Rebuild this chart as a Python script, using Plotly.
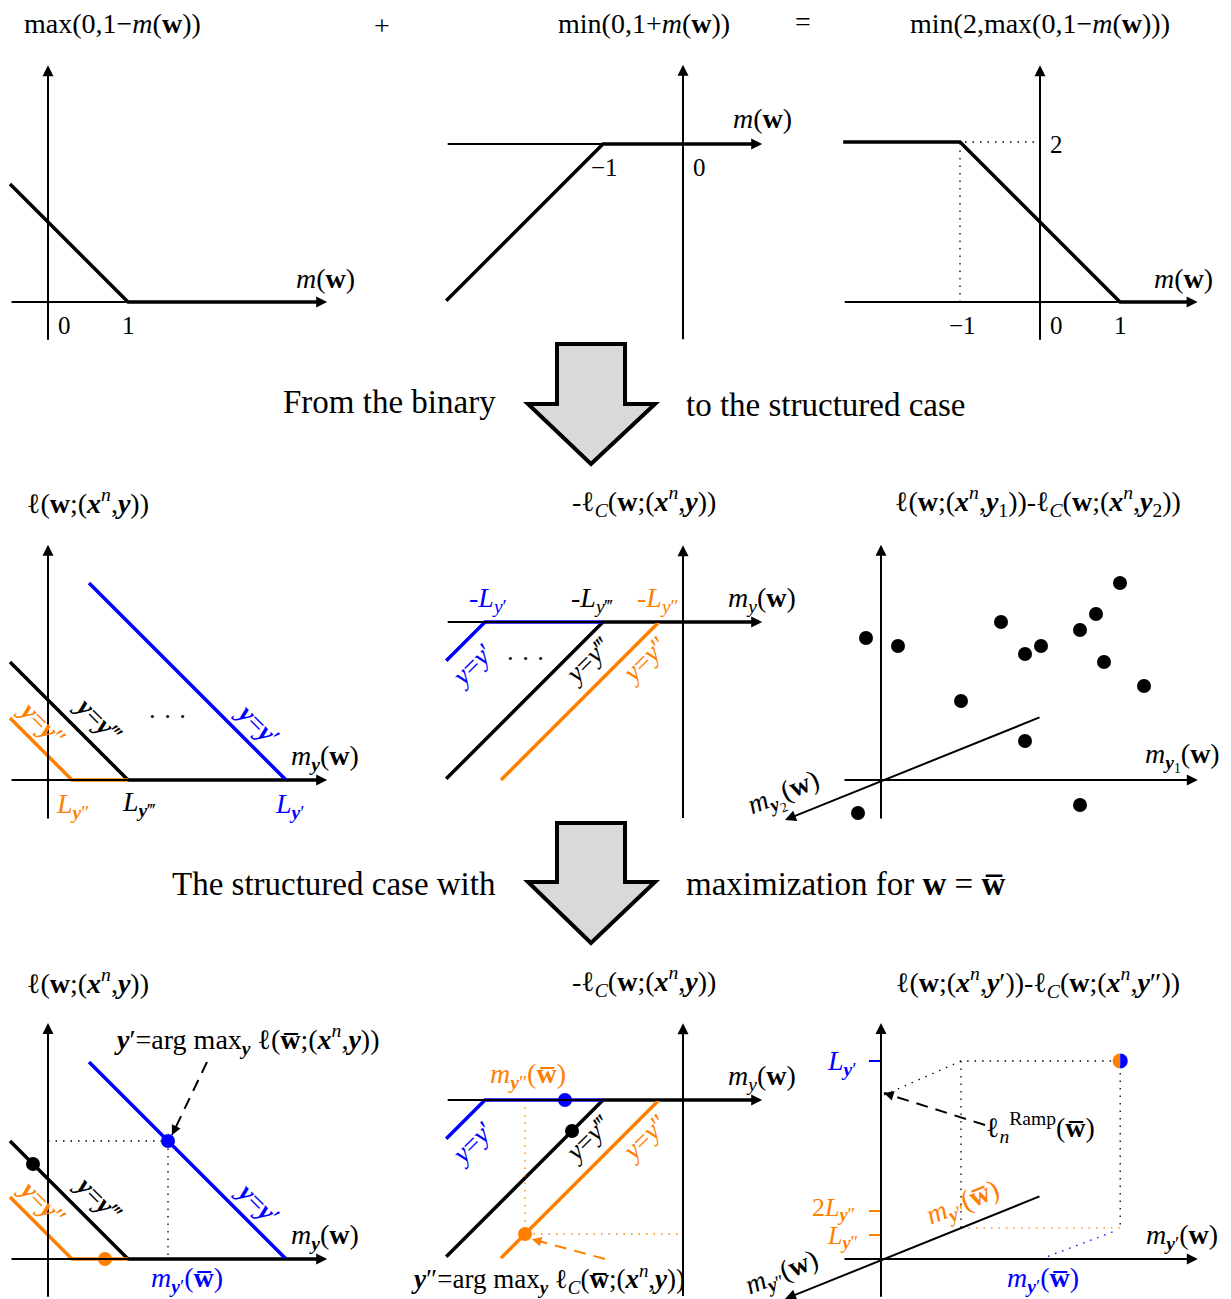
import plotly.graph_objects as go

W, H = 1231, 1299
S = 80.0  # pixels per unit in every panel

FONT = "Liberation Serif"
BLUE = "#0000ff"
ORANGE = "#ff8000"
BLACK = "#000000"
WB = "<b>w\u0305</b>"  # w-bar
MS = 28   # math text size
RS = 27   # rotated label size

# ---------------- data (panel units) ----------------
# Row 1: binary case
hinge_m = [-0.475, 1.0, 3.4]
hinge_v = [1.475, 0.0, 0.0]
concave_m = [-2.96, -1.0, 0.95]
concave_v = [-1.96, 0.0, 0.0]
ramp_m = [-2.46, -1.0, 1.0, 1.9]
ramp_v = [2.0, 2.0, 0.0, 0.0]
ramp_guide_m = [-1.0, -1.0, 0.0]
ramp_guide_v = [0.0, 2.0, 2.0]

# Rows 2/3: structured hinge  l(w;(x,y))
sh_black_m = [-0.475, 1.0, 3.4]
sh_black_v = [1.475, 0.0, 0.0]
sh_orange_m = [-0.475, 0.3, 1.0]
sh_orange_v = [0.775, 0.0, 0.0]
sh_blue_m = [0.5125, 2.975]
sh_blue_v = [2.4625, 0.0]

# structured concave part  -l_C(w;(x,y))
sc_blue_m = [-2.96, -2.475, -1.0]
sc_blue_v = [-0.485, 0.0, 0.0]
sc_black_m = [-2.96, -1.0, 0.95]
sc_black_v = [-1.96, 0.0, 0.0]
sc_orange_m = [-2.275, -0.3]
sc_orange_v = [-1.975, 0.0]

# scatter: difference of the two parts
pts_m1 = [-0.1875, 0.2125, 1.5, 1.8, 2.0, 2.4875, 2.6875, 2.9875, 2.7875, 3.2875, 1.0, 1.8, 2.4875, -0.2875]
pts_v = [1.775, 1.675, 1.975, 1.575, 1.675, 1.875, 2.075, 2.4625, 1.475, 1.175, 0.9875, 0.4875, -0.3125, -0.4125]
obl_m = [2.0, -1.2]     # oblique m_y2 axis (drawn projection)
obl_v = [0.79, -0.5]

# Row 3 extras
dots_l_m = [-0.1875, 0.7125, 1.5]
dots_l_v = [1.1875, 0.0, 1.475]
dots_l_c = [BLACK, ORANGE, BLUE]
guide_l_m = [0.0, 1.5, 1.5]
guide_l_v = [1.475, 1.475, 0.0]
argmax_l_tail = (1.9875, 2.4625)
argmax_l_head = (1.55, 1.55)

dots_c_m = [-1.475, -1.3875, -1.975]
dots_c_v = [0.0, -0.3875, -1.675]
dots_c_c = [BLUE, BLACK, ORANGE]
guide_c_m = [-1.975, -1.975, 0.0]
guide_c_v = [0.0, -1.675, -1.675]
argmax_c_tail = (-0.975, -1.9875)
argmax_c_head = (-1.89, -1.74)

L_y1 = 2.475   # L_y'
L_y2 = 0.3     # L_y''
tick_vals = [L_y1, 2 * L_y2, L_y2]
tick_cols = [BLUE, ORANGE, ORANGE]
my1_bar = 2.0
my2_bar_pt = (1.0, 0.395)
corner = (2.99, 0.39)
top_v = L_y1
ramp_val = 2.075
ramp_tail = (1.3, 1.675)

# ---------------- panels: (ox, oy, left, right, top, bottom) in px ----------------
PANELS = {
    1: (48, 302, 0, 410, 45, 345),
    2: (683, 144, 415, 815, 45, 345),
    3: (1040, 302, 815, 1231, 45, 345),
    4: (48, 780, 0, 410, 525, 825),
    5: (683, 622, 415, 815, 525, 825),
    6: (881, 780, 760, 1231, 525, 825),
    7: (48, 1259, 0, 410, 1005, 1299),
    8: (683, 1100, 415, 815, 1005, 1299),
    9: (881, 1259, 760, 1231, 1005, 1299),
}
# axis extents per panel (tail, head) in panel units
AX_X = {1: (-0.475, 3.49), 2: (-2.96, 0.99), 3: (-2.46, 1.97), 4: (-0.475, 3.49), 5: (-2.96, 0.99),
        6: (-0.475, 3.96), 7: (-0.475, 3.49), 8: (-2.96, 0.99), 9: (-0.475, 3.96)}
AX_Y = {1: (-0.49, 2.96), 2: (-2.46, 0.99), 3: (-0.49, 2.96), 4: (-0.5, 2.94), 5: (-2.47, 0.96),
        6: (-0.5, 2.94), 7: (-0.49, 2.95), 8: (-2.47, 0.96), 9: (-0.49, 2.95)}

fig = go.Figure()
layout = dict(width=W, height=H, margin=dict(l=0, r=0, t=0, b=0), showlegend=False,
              paper_bgcolor="white", plot_bgcolor="white")
annotations = []
shapes = []


def refs(i):
    return ("x" if i == 1 else f"x{i}"), ("y" if i == 1 else f"y{i}")


for i, (ox, oy, l, r, t, b) in PANELS.items():
    sx = "" if i == 1 else str(i)
    xr, yr = refs(i)
    layout[f"xaxis{sx}"] = dict(domain=[l / W, r / W], range=[(l - ox) / S, (r - ox) / S],
                                visible=False, fixedrange=True, anchor=yr)
    layout[f"yaxis{sx}"] = dict(domain=[1 - b / H, 1 - t / H], range=[(oy - b) / S, (oy - t) / S],
                                visible=False, fixedrange=True, anchor=xr)


def line(i, xs, ys, color=BLACK, width=3.5, dash=None):
    xr, yr = refs(i)
    fig.add_trace(go.Scatter(x=xs, y=ys, xaxis=xr, yaxis=yr, mode="lines", hoverinfo="skip",
                             line=dict(color=color, width=width, dash=dash)))


def dots(i, xs, ys, colors, size=14):
    xr, yr = refs(i)
    fig.add_trace(go.Scatter(x=xs, y=ys, xaxis=xr, yaxis=yr, mode="markers", hoverinfo="skip",
                             cliponaxis=False, marker=dict(color=colors, size=size)))


def arrow(i, tail, head, color=BLACK, width=2, size=1.1):
    xr, yr = refs(i)
    annotations.append(dict(x=head[0], y=head[1], ax=tail[0], ay=tail[1], xref=xr, yref=yr,
                            axref=xr, ayref=yr, showarrow=True, arrowhead=2, arrowsize=size,
                            arrowwidth=width, arrowcolor=color, text=""))


def dashed_arrow(i, tail, head, color=BLACK):
    line(i, [tail[0], head[0]], [tail[1], head[1]], color=color, width=2, dash="12px,8px")
    near = (head[0] + 0.08 * (tail[0] - head[0]), head[1] + 0.08 * (tail[1] - head[1]))
    arrow(i, near, head, color=color, width=1.6, size=1.2)


def T(px, py, text, size=MS, color=BLACK, angle=0, xanchor="center"):
    annotations.append(dict(x=px / W, y=1 - py / H, xref="paper", yref="paper", text=text,
                            showarrow=False, textangle=angle, xanchor=xanchor, yanchor="middle",
                            font=dict(family=FONT, size=size, color=color)))


# coordinate axes
for i in PANELS:
    arrow(i, (AX_X[i][0], 0), (AX_X[i][1], 0))
    arrow(i, (0, AX_Y[i][0]), (0, AX_Y[i][1]))
for i in (6, 9):
    arrow(i, (obl_m[0], obl_v[0]), (obl_m[1], obl_v[1]))

# ---------------- row 1 ----------------
line(1, hinge_m, hinge_v)
line(2, concave_m, concave_v)
line(3, ramp_guide_m, ramp_guide_v, width=1.3, dash="1.5px,6px")
line(3, ramp_m, ramp_v)

mw = "<i>m</i>(<b>w</b>)"
T(112, 23, "max(0,1\u2212<i>m</i>(<b>w</b>))")
T(382, 25, "+")
T(644, 23, "min(0,1+<i>m</i>(<b>w</b>))")
T(803, 22, "=")
T(1040, 23, "min(2,max(0,1\u2212<i>m</i>(<b>w</b>)))")
T(325, 278, mw)
T(762, 119, mw)
T(1183, 278, mw)
for px, py, s in [(64, 326, "0"), (128, 326, "1"), (604, 168, "\u22121"), (699, 168, "0"),
                  (1056, 144, "2"), (962, 326, "\u22121"), (1056, 326, "0"), (1120, 326, "1")]:
    T(px, py, s, size=25)

# ---------------- rows 2 and 3: structured panels ----------------
for i in (4, 7):
    line(i, sh_black_m, sh_black_v)
    line(i, sh_orange_m, sh_orange_v, color=ORANGE)
    line(i, sh_blue_m, sh_blue_v, color=BLUE)
for i in (5, 8):
    line(i, sc_black_m, sc_black_v)
    line(i, sc_blue_m, sc_blue_v, color=BLUE)
    line(i, sc_orange_m, sc_orange_v, color=ORANGE)

xb = "<b><i>x</i></b><sup><i>n</i></sup>"
yb = "<b><i>y</i></b>"
title_l = f"\u2113(<b>w</b>;({xb},{yb}))"
title_c = f"-\u2113<sub><i>C</i></sub>(<b>w</b>;({xb},{yb}))"
my_b = f"<i>m</i><sub>{yb}</sub>(<b>w</b>)"
my_i = "<i>m</i><sub><i>y</i></sub>(<b>w</b>)"

for dy in (0, 479):
    T(88, 502 + dy, title_l)
    T(644, 502 + dy, title_c)
    T(98, 719 + dy, f"{yb}={yb}\u2034", size=RS, angle=45)
    T(42, 723 + dy, f"{yb}={yb}\u2033", size=RS, color=ORANGE, angle=45)
    T(258, 724 + dy, f"{yb}={yb}\u2032", size=RS, color=BLUE, angle=45)
    T(325, 757 + dy, my_b)
T(167, 716, "\u00b7 \u00b7 \u00b7", size=26)
T(72, 805, f"<i>L</i><sub>{yb}\u2033</sub>", color=ORANGE)
T(138, 803, f"<i>L</i><sub>{yb}\u2034</sub>")
T(290, 805, f"<i>L</i><sub>{yb}\u2032</sub>", color=BLUE)

# panel 5 labels
T(488, 600, "-<i>L</i><sub><i>y</i>\u2032</sub>", color=BLUE)
T(592, 600, "-<i>L</i><sub><i>y</i>\u2034</sub>")
T(658, 600, "-<i>L</i><sub><i>y</i>\u2033</sub>", color=ORANGE)
T(762, 600, my_i)
T(525, 658, "\u00b7 \u00b7 \u00b7", size=26)
for dy in (0, 478):
    T(472, 665 + dy, "<i>y</i>=<i>y</i>\u2032", size=RS, color=BLUE, angle=-45)
    T(587, 661 + dy, "<i>y</i>=<i>y</i>\u2034", size=RS, angle=-45)
    T(644, 660 + dy, "<i>y</i>=<i>y</i>\u2033", size=RS, color=ORANGE, angle=-45)
T(762, 1077, my_i)

# panel 6
dots(6, pts_m1, pts_v, BLACK)
T(1038, 502, f"\u2113(<b>w</b>;({xb},{yb}<sub>1</sub>))-\u2113<sub><i>C</i></sub>(<b>w</b>;({xb},{yb}<sub>2</sub>))")
T(1182, 757, f"<i>m</i><sub>{yb}<sub>1</sub></sub>(<b>w</b>)")
T(784, 795, f"<i>m</i><sub>{yb}<sub>2</sub></sub>(<b>w</b>)", angle=-22)

T(498, 402, "From the binary", size=33, xanchor="right")
T(684, 405, "to the structured case", size=33, xanchor="left")
T(498, 884, "The structured case with", size=33, xanchor="right")
T(684, 884, f"maximization for <b>w</b> = {WB}", size=33, xanchor="left")

# panel 7 extras
line(7, guide_l_m, guide_l_v, width=1.3, dash="1.5px,6px")
dots(7, dots_l_m, dots_l_v, dots_l_c)
dashed_arrow(7, argmax_l_tail, argmax_l_head)
T(247, 1039, f"{yb}\u2032=arg max<sub>{yb}</sub> \u2113({WB};({xb},{yb}))")
T(187, 1279, f"<i>m</i><sub>{yb}\u2032</sub>({WB})", color=BLUE)

# panel 8 extras
line(8, guide_c_m, guide_c_v, color=ORANGE, width=1.3, dash="1.5px,6px")
dots(8, dots_c_m, dots_c_v, dots_c_c)
dashed_arrow(8, argmax_c_tail, argmax_c_head, color=ORANGE)
T(528, 1075, f"<i>m</i><sub>{yb}\u2033</sub>({WB})", color=ORANGE)
T(548, 1279, f"{yb}\u2033=arg max<sub>{yb}</sub> \u2113<sub><i>C</i></sub>({WB};({xb},{yb}))", size=27)

# panel 9
for v, c in zip(tick_vals, tick_cols):
    line(9, [-0.15, 0.0], [v, v], color=c, width=2)
line(9, [my2_bar_pt[0], my2_bar_pt[0], corner[0], corner[0]],
     [my2_bar_pt[1], top_v, top_v, corner[1]], width=1.3, dash="1.5px,6px")
line(9, [my2_bar_pt[0], 0.04], [top_v, 2.05], width=1.3, dash="1.5px,6px")
line(9, [my2_bar_pt[0], corner[0]], [corner[1], corner[1]], color=ORANGE, width=1.3, dash="1.5px,6px")
line(9, [my1_bar, corner[0] - 0.09], [0.0, corner[1] - 0.05], color=BLUE, width=1.3, dash="1.5px,6px")
dashed_arrow(9, ramp_tail, (0.0375, ramp_val))

# half orange / half blue dot
r = 7.5 / S
k = 0.5523 * r
cx, cy = corner[0], top_v
left_half = (f"M {cx},{cy + r} C {cx - k},{cy + r} {cx - r},{cy + k} {cx - r},{cy} "
             f"C {cx - r},{cy - k} {cx - k},{cy - r} {cx},{cy - r} Z")
right_half = (f"M {cx},{cy + r} C {cx + k},{cy + r} {cx + r},{cy + k} {cx + r},{cy} "
              f"C {cx + r},{cy - k} {cx + k},{cy - r} {cx},{cy - r} Z")
shapes.append(dict(type="path", path=left_half, xref="x9", yref="y9", fillcolor=ORANGE, line=dict(width=0)))
shapes.append(dict(type="path", path=right_half, xref="x9", yref="y9", fillcolor=BLUE, line=dict(width=0)))

T(1038, 982, f"\u2113(<b>w</b>;({xb},{yb}\u2032))-\u2113<sub><i>C</i></sub>(<b>w</b>;({xb},{yb}\u2033))")
T(842, 1062, f"<i>L</i><sub>{yb}\u2032</sub>", color=BLUE)
T(833, 1209, f"2<i>L</i><sub>{yb}\u2033</sub>", size=26, color=ORANGE)
T(842, 1237, f"<i>L</i><sub>{yb}\u2033</sub>", size=26, color=ORANGE)
T(1040, 1127, f"\u2113<sub><i>n</i></sub><sup>Ramp</sup>({WB})")
T(963, 1203, f"<i>m</i><sub>{yb}\u2033</sub>({WB})", color=ORANGE, angle=-22)
T(1043, 1279, f"<i>m</i><sub>{yb}\u2032</sub>({WB})", color=BLUE)
T(1182, 1236, f"<i>m</i><sub>{yb}\u2032</sub>(<b>w</b>)")
T(782, 1273, f"<i>m</i><sub>{yb}\u2033</sub>(<b>w</b>)", angle=-22)


# block arrows (paper-referenced decoration)
def block_arrow(top, shoulder, tip):
    pts = [(557, top), (625, top), (625, shoulder), (655, shoulder), (591, tip), (528, shoulder), (557, shoulder)]
    path = "M " + " L ".join(f"{px / W},{1 - py / H}" for px, py in pts) + " Z"
    shapes.append(dict(type="path", path=path, xref="paper", yref="paper",
                       fillcolor="#d9d9d9", line=dict(color=BLACK, width=4)))


block_arrow(344, 404, 464)
block_arrow(823, 882, 943)

layout["annotations"] = annotations
layout["shapes"] = shapes
fig.update_layout(**layout)
fig.write_html("out.html", config={"displayModeBar": False})

# remove the browser's default page margin so the figure sits at the top-left corner
with open("out.html", "r", encoding="utf-8") as f:
    html = f.read()
html = html.replace("<body>", '<body style="margin:0;overflow:hidden">', 1)
with open("out.html", "w", encoding="utf-8") as f:
    f.write(html)
